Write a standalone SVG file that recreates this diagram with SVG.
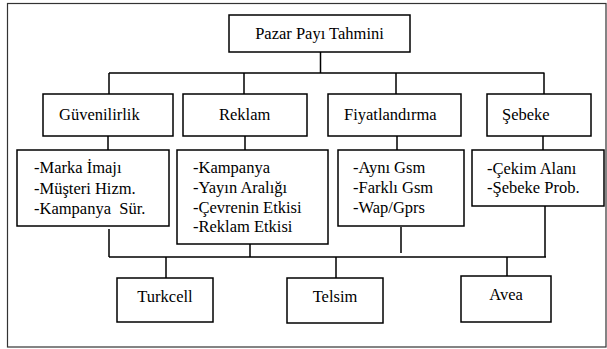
<svg xmlns="http://www.w3.org/2000/svg" width="607" height="349" viewBox="0 0 607 349">
<style>
.box{fill:#fff;stroke:#000;stroke-width:1.5}
.frame{fill:#fff;stroke:#333;stroke-width:1.2}
.t{font-family:'Liberation Serif','Times New Roman',serif;font-size:16.5px;fill:#000}
.c{text-anchor:middle}
.ln{stroke:#000;stroke-width:1.5;fill:none}
</style>
<rect class="frame" x="7.5" y="3.5" width="598.5" height="343.5"/>
<g id="connectors">
<path class="ln" d="M320.5,52 V73 M109,73 H544.5 M109,73 V94 M244,73 V94 M396,73 V94 M544,73 V94"/>
<path class="ln" d="M108,136 V150 M245,136 V150 M397,136 V150 M543,136 V150"/>
<path class="ln" d="M109,229 V257 M250,244 V257 M401,227 V253 M545,206 V257 M109,257 H546"/>
<path class="ln" d="M166,257 V278 M336,257 V278 M507,257 V276"/>
</g>
<g id="n-pazar"><rect class="box" x="229" y="15" width="181" height="37"/><text class="t c" x="319.5" y="39">Pazar Payı Tahmini</text></g>
<g id="n-guven"><rect class="box" x="43" y="94" width="130" height="42"/><text class="t" x="59" y="120">Güvenilirlik</text></g>
<g id="n-reklam"><rect class="box" x="183" y="94" width="124" height="42"/><text class="t" x="219" y="120">Reklam</text></g>
<g id="n-fiyat"><rect class="box" x="328" y="94" width="133" height="42"/><text class="t" x="344" y="120">Fiyatlandırma</text></g>
<g id="n-sebeke"><rect class="box" x="487" y="94" width="104" height="42"/><text class="t" x="502" y="120">Şebeke</text></g>
<g id="n-guven2"><rect class="box" x="17" y="150" width="152" height="76"/><text class="t" x="34" y="173">-Marka İmajı</text><text class="t" x="34" y="193.5">-Müşteri Hizm.</text><text class="t" x="34" y="214" xml:space="preserve">-Kampanya  Sür.</text></g>
<g id="n-reklam2"><rect class="box" x="177" y="150" width="151" height="94"/><text class="t" x="193" y="173">-Kampanya</text><text class="t" x="193" y="193">-Yayın Aralığı</text><text class="t" x="193" y="213">-Çevrenin Etkisi</text><text class="t" x="193" y="232">-Reklam Etkisi</text></g>
<g id="n-fiyat2"><rect class="box" x="338" y="150" width="126" height="76"/><text class="t" x="353" y="173">-Aynı Gsm</text><text class="t" x="353" y="193">-Farklı Gsm</text><text class="t" x="353" y="212.5">-Wap/Gprs</text></g>
<g id="n-sebeke2"><rect class="box" x="472" y="150" width="132" height="56"/><text class="t" x="487" y="174">-Çekim Alanı</text><text class="t" x="487" y="193">-Şebeke Prob.</text></g>
<g id="n-turkcell"><rect class="box" x="117" y="278" width="96" height="44"/><text class="t c" x="165" y="302">Turkcell</text></g>
<g id="n-telsim"><rect class="box" x="287" y="278" width="96" height="45"/><text class="t c" x="335" y="302">Telsim</text></g>
<g id="n-avea"><rect class="box" x="461" y="276" width="90" height="46"/><text class="t c" x="506" y="300">Avea</text></g>
</svg>
